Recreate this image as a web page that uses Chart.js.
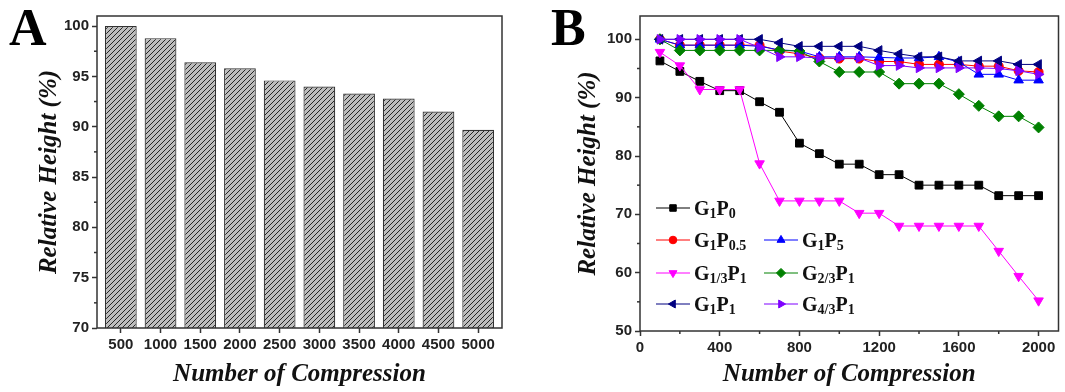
<!DOCTYPE html>
<html><head><meta charset="utf-8">
<script src="https://cdn.jsdelivr.net/npm/chart.js@4.4.1/dist/chart.umd.min.js"></script>
<style>
html,body{margin:0;padding:0;background:#fff;width:1065px;height:392px;overflow:hidden;}
#wrapA{position:absolute;left:0;top:0;width:532px;height:392px;}
#wrapB{position:absolute;left:532px;top:0;width:533px;height:392px;}
.panel{position:absolute;font-family:'Liberation Serif','Times New Roman',serif;font-weight:bold;font-size:52px;line-height:1;color:#000;}
</style></head><body>
<div id="wrapA"><canvas id="cA" width="532" height="392"></canvas></div>
<div id="wrapB"><canvas id="cB" width="533" height="392"></canvas></div>
<div class="panel" style="left:9px;top:2px">A</div>
<div class="panel" style="left:551px;top:2px">B</div>
<script>
// ---------- Panel A data ----------
const compressionA = [500, 1000, 1500, 2000, 2500, 3000, 3500, 4000, 4500, 5000];
const relHeightA = [100, 98.8, 96.4, 95.8, 94.6, 94.0, 93.3, 92.8, 91.5, 89.7];
const yTicksA = [70, 75, 80, 85, 90, 95, 100];
const yMinorA = [72.5, 77.5, 82.5, 87.5, 92.5, 97.5];

// ---------- Panel B data ----------
const compressionB = [100, 200, 300, 400, 500, 600, 700, 800, 900, 1000, 1100, 1200, 1300, 1400, 1500, 1600, 1700, 1800, 1900, 2000];
const g1p0   = [96.3, 94.5, 92.8, 91.2, 91.2, 89.3, 87.5, 82.2, 80.4, 78.6, 78.6, 76.8, 76.8, 75.0, 75.0, 75.0, 75.0, 73.2, 73.2, 73.2];
const g1p05  = [100, 99.0, 99.0, 99.0, 99.0, 99.0, 98.0, 97.5, 96.8, 96.7, 96.7, 96.2, 96.2, 95.7, 95.7, 95.7, 95.4, 95.4, 94.6, 94.4];
const g1p5   = [100, 99.0, 99.0, 99.0, 99.0, 98.8, 98.2, 98.0, 97.0, 97.0, 97.0, 96.9, 96.8, 96.8, 97.0, 96.1, 94.0, 94.0, 93.0, 93.0];
const g13p1  = [97.8, 95.5, 91.4, 91.4, 91.4, 78.7, 72.3, 72.3, 72.3, 72.3, 70.2, 70.2, 68.0, 68.0, 68.0, 68.0, 68.0, 63.7, 59.4, 55.2];
const g23p1  = [100, 98.1, 98.1, 98.1, 98.1, 98.1, 98.1, 98.0, 96.2, 94.4, 94.4, 94.4, 92.4, 92.4, 92.4, 90.6, 88.6, 86.8, 86.8, 84.9];
const g1p1   = [100, 100, 100, 100, 100, 100, 99.4, 98.8, 98.8, 98.8, 98.8, 98.1, 97.5, 97.0, 97.0, 96.3, 96.3, 96.3, 95.7, 95.7];
const g43p1  = [100, 100, 100, 100, 100, 98.6, 97.0, 97.0, 96.8, 96.8, 96.8, 95.5, 95.5, 95.1, 95.1, 95.1, 95.1, 95.0, 94.6, 94.0];
const xTicksB = [0, 400, 800, 1200, 1600, 2000];
const xMinorB = [200, 600, 1000, 1400, 1800];
const yTicksB = [50, 60, 70, 80, 90, 100];
const yMinorB = [55, 65, 75, 85, 95];
// legend labels: [text, isSubscript]
const labG1P0  = [['G',0],['1',1],['P',0],['0',1]];
const labG1P05 = [['G',0],['1',1],['P',0],['0.5',1]];
const labG1P5  = [['G',0],['1',1],['P',0],['5',1]];
const labG13P1 = [['G',0],['1/3',1],['P',0],['1',1]];
const labG23P1 = [['G',0],['2/3',1],['P',0],['1',1]];
const labG1P1  = [['G',0],['1',1],['P',0],['1',1]];
const labG43P1 = [['G',0],['4/3',1],['P',0],['1',1]];

// ---------- shared styling ----------
const tickFont = {family: "'Liberation Sans', Arial, sans-serif", weight: 'bold', size: 15};
const titleFont = {family: "'Liberation Serif', 'Times New Roman', serif", weight: 'bold', style: 'italic', size: 25, lineHeight: 1};
const AX = '#333';
const plain = v => String(v);

const framePlugin = {
  id: 'frame',
  afterDraw(chart) {
    const {ctx, chartArea: a} = chart;
    ctx.save();
    ctx.strokeStyle = AX; ctx.lineWidth = 1.5;
    ctx.strokeRect(a.left, a.top, a.right - a.left, a.bottom - a.top);
    ctx.restore();
  }
};
const minorPlugin = {
  id: 'minor',
  afterDraw(chart, args, opts) {
    const ctx = chart.ctx, a = chart.chartArea;
    ctx.save();
    ctx.strokeStyle = AX; ctx.lineWidth = 1.5;
    (opts.x || []).forEach(v => {
      const p = chart.scales.x.getPixelForValue(v);
      ctx.beginPath(); ctx.moveTo(p, a.bottom); ctx.lineTo(p, a.bottom + 3); ctx.stroke();
    });
    (opts.y || []).forEach(v => {
      const p = chart.scales.y.getPixelForValue(v);
      ctx.beginPath(); ctx.moveTo(a.left, p); ctx.lineTo(a.left - 3, p); ctx.stroke();
    });
    ctx.restore();
  }
};

function axisBase(extra) {
  return Object.assign({
    offset: false,
    grid: {offset: false, drawOnChartArea: false, drawTicks: true, tickLength: 5, tickWidth: 1.5, tickColor: AX},
    border: {display: false},
    ticks: {color: '#222', font: tickFont, padding: 3, maxRotation: 0, autoSkip: false, callback: plain, includeBounds: false}
  }, extra);
}

// ---------- Panel A ----------
const ctxA = document.getElementById('cA').getContext('2d');
function makeHatch(ctx) {
  const s = 5;
  const c = document.createElement('canvas');
  c.width = s; c.height = s;
  const g = c.getContext('2d');
  g.fillStyle = '#bdbdbd'; g.fillRect(0, 0, s, s);
  g.strokeStyle = '#262626'; g.lineWidth = 1;
  g.beginPath();
  g.moveTo(0, s); g.lineTo(s, 0);
  g.moveTo(-1, 1); g.lineTo(1, -1);
  g.moveTo(s - 1, s + 1); g.lineTo(s + 1, s - 1);
  g.stroke();
  return ctx.createPattern(c, 'repeat');
}

new Chart(ctxA, {
  type: 'bar',
  data: {
    datasets: [{
      data: compressionA.map((c, i) => ({x: c, y: relHeightA[i]})),
      backgroundColor: makeHatch(ctxA),
      borderColor: '#333',
      borderWidth: 1.2,
      barPercentage: 0.8,
      categoryPercentage: 1
    }]
  },
  options: {
    responsive: false, animation: false, devicePixelRatio: 1,
    layout: {padding: {left: 37, top: 16, right: 30, bottom: 0}},
    plugins: {legend: {display: false}, tooltip: {enabled: false}, minor: {y: yMinorA}},
    scales: {
      x: axisBase({
        type: 'linear', min: 200, max: 5300,
        afterBuildTicks: s => { s.ticks = compressionA.map(v => ({value: v})); },
        afterFit: s => { s.height = 64; },
        title: {display: true, text: 'Number of Compression', font: titleFont, color: '#111', padding: {top: 0, bottom: 5}}
      }),
      y: axisBase({
        min: 70, max: 101,
        afterBuildTicks: s => { s.ticks = yTicksA.map(v => ({value: v})); },
        afterFit: s => { s.width = 60; },
        title: {display: true, text: 'Relative Height (%)', font: titleFont, color: '#111', padding: {top: 0, bottom: 0}}
      })
    }
  },
  plugins: [framePlugin, minorPlugin]
});

// ---------- Panel B ----------
function series(data, color, style, rot, r, order) {
  return {
    data: compressionB.map((x, i) => ({x: x, y: data[i]})),
    borderColor: color, backgroundColor: color,
    pointBackgroundColor: color, pointBorderColor: color,
    borderWidth: 1, pointStyle: style, pointRotation: rot, pointRadius: r, pointBorderWidth: 1,
    tension: 0, order: order
  };
}
const dsB = [
  series(g1p0,  '#000000', 'rect', 0, 5.5, 6),
  series(g1p05, '#ff0000', 'circle', 0, 4.5, 5),
  series(g1p5,  '#0000ff', 'triangle', 0, 5.5, 4),
  series(g13p1, '#ff00ff', 'triangle', 180, 5.5, 3),
  series(g23p1, '#008000', 'rectRot', 0, 5.5, 2),
  series(g1p1,  '#000080', 'triangle', 270, 5.5, 1),
  series(g43p1, '#7f00ff', 'triangle', 90, 5.5, 0)
];
const legendItems = [
  {ds: 0, col: 0, row: 0, lab: labG1P0},
  {ds: 1, col: 0, row: 1, lab: labG1P05},
  {ds: 2, col: 1, row: 1, lab: labG1P5},
  {ds: 3, col: 0, row: 2, lab: labG13P1},
  {ds: 4, col: 1, row: 2, lab: labG23P1},
  {ds: 5, col: 0, row: 3, lab: labG1P1},
  {ds: 6, col: 1, row: 3, lab: labG43P1}
];
const legendPlugin = {
  id: 'legendB',
  afterDraw(chart) {
    const ctx = chart.ctx, a = chart.chartArea;
    const colX = [16, 124];
    const rowY = [-123, -91, -58, -27];
    ctx.save();
    legendItems.forEach(it => {
      const ds = chart.data.datasets[it.ds];
      const x0 = a.left + colX[it.col];
      const y = a.bottom + rowY[it.row];
      ctx.strokeStyle = ds.borderColor; ctx.lineWidth = 1;
      ctx.beginPath(); ctx.moveTo(x0, y); ctx.lineTo(x0 + 34, y); ctx.stroke();
      ctx.fillStyle = ds.pointBackgroundColor;
      Chart.helpers.drawPoint(ctx, {pointStyle: ds.pointStyle, rotation: ds.pointRotation, radius: ds.pointStyle === 'circle' ? 3.8 : 4.6, borderWidth: 1}, x0 + 17, y);
      let tx = x0 + 38;
      const base = y + 7;
      ctx.fillStyle = '#111';
      ctx.textBaseline = 'alphabetic';
      it.lab.forEach(([t, sub]) => {
        ctx.font = sub ? "bold 14px 'Liberation Serif', serif" : "bold 20px 'Liberation Serif', serif";
        ctx.fillText(t, tx, sub ? base + 3 : base);
        tx += ctx.measureText(t).width;
      });
    });
    ctx.restore();
  }
};

new Chart(document.getElementById('cB').getContext('2d'), {
  type: 'line',
  data: {datasets: dsB},
  options: {
    responsive: false, animation: false, devicePixelRatio: 1,
    layout: {padding: {left: 44, top: 16, right: 4, bottom: 0}},
    plugins: {legend: {display: false}, tooltip: {enabled: false}, minor: {x: xMinorB, y: yMinorB}},
    scales: {
      x: axisBase({
        type: 'linear', min: 0, max: 2100,
        afterBuildTicks: s => { s.ticks = xTicksB.map(v => ({value: v})); },
        afterFit: s => { s.height = 61; },
        title: {display: true, text: 'Number of Compression', font: titleFont, color: '#111', padding: {top: 0, bottom: 5}}
      }),
      y: axisBase({
        min: 50, max: 104,
        afterBuildTicks: s => { s.ticks = yTicksB.map(v => ({value: v})); },
        afterFit: s => { s.width = 64; },
        title: {display: true, text: 'Relative Height (%)', font: titleFont, color: '#111', padding: {top: 0, bottom: 0}}
      })
    }
  },
  plugins: [framePlugin, minorPlugin, legendPlugin]
});
</script>
</body></html>
